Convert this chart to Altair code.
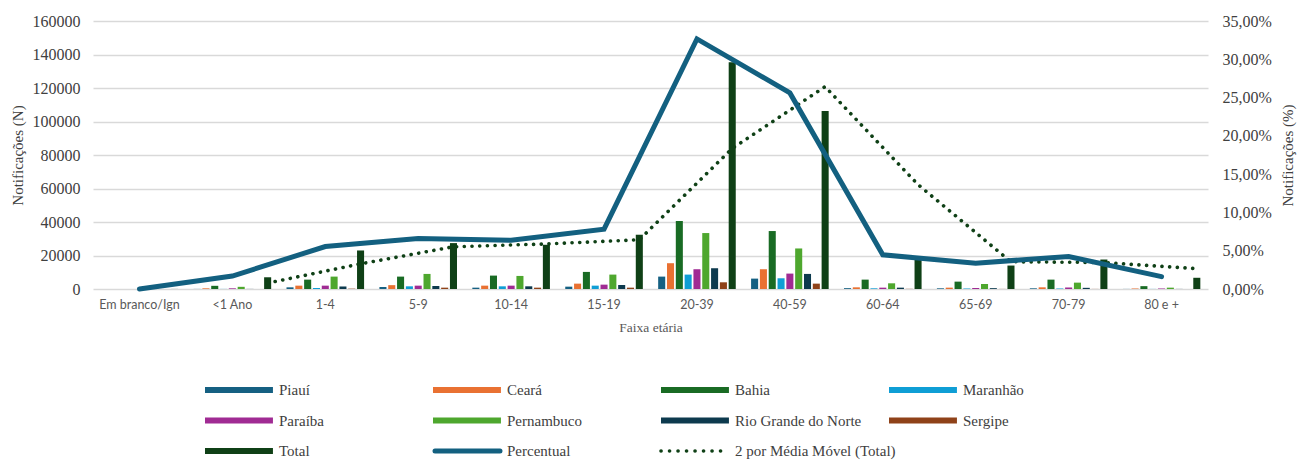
import altair as alt
import pandas as pd

# Age groups (x axis)
categories = ["Em branco/Ign", "<1 Ano", "1-4", "5-9", "10-14", "15-19",
              "20-39", "40-59", "60-64", "65-69", "70-79", "80 e +"]

# Notifications per state and age group
piaui      = [0, 50, 1000, 1200, 800, 1400, 7400, 6200, 500, 400, 400, 50]
ceara      = [0, 400, 2000, 2300, 2000, 3200, 15400, 11800, 1000, 800, 1000, 300]
bahia      = [0, 1900, 5600, 7400, 8000, 10200, 40600, 34600, 5600, 4400, 5600, 1700]
maranhao   = [0, 50, 600, 1600, 1600, 2000, 8600, 6400, 400, 300, 300, 50]
paraiba    = [0, 400, 2000, 2000, 2000, 2600, 11800, 9200, 800, 600, 900, 300]
pernambuco = [0, 1300, 7400, 9000, 7800, 8600, 33400, 24200, 3400, 3000, 3800, 800]
rio_grande_do_norte = [0, 50, 1500, 1800, 1600, 2400, 12400, 9000, 800, 500, 700, 50]
sergipe    = [0, 0, 200, 800, 800, 800, 4000, 3200, 100, 50, 50, 0]
total      = [40, 7000, 23000, 27400, 26400, 32400, 135400, 106200, 18500, 14000, 17600, 6700]

series_names = ["Piauí", "Ceará", "Bahia", "Maranhão", "Paraíba", "Pernambuco",
                "Rio Grande do Norte", "Sergipe", "Total"]
series_values = [piaui, ceara, bahia, maranhao, paraiba, pernambuco,
                 rio_grande_do_norte, sergipe, total]

legend_names = series_names + ["Percentual", "2 por Média Móvel (Total)"]
palette = ["#156082", "#E97132", "#196B24", "#0F9ED5", "#A02B93", "#4EA72E",
           "#0D3A4E", "#8F4219", "#0F4016", "#136080", "#0F4016"]

SERIF = "Liberation Serif"
SANS = "Lato"
TEXT = "#404040"
GREY = "#595959"

# Long table for the clustered columns
rows = []
for name, vals in zip(series_names, series_values):
    for cat, v in zip(categories, vals):
        rows.append({"faixa": cat, "serie": name, "n": v})
bar_df = pd.DataFrame(rows)

# Share of each age group in the total, and 2-period moving average of the total
tot = pd.Series(total, dtype=float)
pct_df = pd.DataFrame({"faixa": categories, "pct": tot / tot.sum() * 100})
ma = tot.rolling(2).mean()
ma_df = pd.DataFrame({"idx": range(len(categories)), "ma": ma}).dropna()

color_scale = alt.Scale(domain=legend_names, range=palette)
band_scale = dict(type="band", paddingInner=0.146, paddingOuter=0.073)

x_band = alt.X("faixa:N", sort=categories, scale=alt.Scale(**band_scale),
               axis=alt.Axis(title="Faixa etária", labelAngle=0, labelFont=SANS,
                             labelFontSize=12.5, labelColor=GREY, labelPadding=9,
                             ticks=False, domain=False, grid=False,
                             titleFont=SERIF, titleFontSize=13.5, titleColor=GREY,
                             titleFontWeight="normal", titlePadding=10))
x_point = alt.X("faixa:N", sort=categories,
                scale=alt.Scale(type="point", padding=0.5), axis=None)

# The moving average is placed on the Total column, the last of the nine
# columns of each group: group step 1, column step 0.0948, Total 0.379 right of centre.
x_total = alt.X("pos:Q", scale=alt.Scale(domain=[-0.5, 11.5], nice=False, zero=False),
                axis=None)

bars = alt.Chart(bar_df).mark_bar().encode(
    x=x_band,
    xOffset=alt.XOffset("serie:N", sort=series_names,
                        scale=alt.Scale(paddingInner=0.2, paddingOuter=0.1)),
    y=alt.Y("n:Q", scale=alt.Scale(domain=[0, 160000], nice=False),
            axis=alt.Axis(title="Notificações (N)", values=list(range(0, 160001, 20000)),
                          format="d", labelFont=SERIF, labelFontSize=16,
                          labelColor=TEXT, labelPadding=13, ticks=False,
                          domain=False, grid=True, gridColor="#d9d9d9",
                          gridWidth=1.3, titleFont=SERIF, titleFontSize=15,
                          titleColor=TEXT, titleFontWeight="normal",
                          titlePadding=7)),
    color=alt.Color("serie:N", scale=color_scale, legend=None),
)

pct_line = alt.Chart(pct_df).mark_line(
    color=palette[9], strokeWidth=5, strokeCap="round", strokeJoin="miter"
).encode(
    x=x_point,
    y=alt.Y("pct:Q", scale=alt.Scale(domain=[0, 35], nice=False),
            axis=alt.Axis(orient="right", title="Notificações (%)",
                          values=list(range(0, 36, 5)),
                          labelExpr="replace(format(datum.value, '.2f'), '.', ',') + '%'",
                          labelFont=SERIF, labelFontSize=16, labelColor=TEXT,
                          labelPadding=14, ticks=False, domain=False, grid=False,
                          titleFont=SERIF, titleFontSize=15, titleColor=TEXT,
                          titleFontWeight="normal", titleAngle=270,
                          titlePadding=24)),
)

ma_line = alt.Chart(ma_df).transform_calculate(
    pos="datum.idx + 0.379"
).mark_line(
    color=palette[10], strokeWidth=3.6, strokeCap="round", strokeDash=[0.1, 7.6]
).encode(
    x=x_total,
    y=alt.Y("ma:Q", scale=alt.Scale(domain=[0, 160000], nice=False), axis=None),
)

# Legend: four columns, three rows below the plot
leg_df = pd.DataFrame({
    "name": legend_names,
    "col": [i % 4 for i in range(len(legend_names))],
    "row": [i // 4 for i in range(len(legend_names))],
    "kind": ["bar"] * 9 + ["pct", "ma"],
})
leg_x = alt.X("col:Q", scale=alt.Scale(domain=[0, 4], range=[112, 1024]), axis=None)
leg_x2 = alt.X2("col_end:Q")
leg_y = alt.Y("row:Q", scale=alt.Scale(domain=[0, 2], range=[369, 430]), axis=None)

leg_base = alt.Chart(leg_df).transform_calculate(col_end="datum.col + 0.298")

leg_bars = leg_base.transform_filter("datum.kind == 'bar'").mark_rule(
    strokeWidth=6, strokeCap="butt"
).encode(x=leg_x, x2=leg_x2, y=leg_y,
         color=alt.Color("name:N", scale=color_scale, legend=None))

leg_pct = leg_base.transform_filter("datum.kind == 'pct'").transform_calculate(
    col_end="datum.col + 0.285"
).mark_rule(strokeWidth=5, strokeCap="round").encode(
    x=alt.X("col:Q", scale=alt.Scale(domain=[0, 4], range=[114, 1026]), axis=None),
    x2=leg_x2, y=leg_y,
    color=alt.Color("name:N", scale=color_scale, legend=None))

leg_ma = leg_base.transform_filter("datum.kind == 'ma'").mark_rule(
    strokeWidth=3.6, strokeCap="round", strokeDash=[0.1, 8.4]
).encode(x=leg_x, x2=leg_x2, y=leg_y,
         color=alt.Color("name:N", scale=color_scale, legend=None))

leg_text = leg_base.mark_text(
    align="left", baseline="middle", dx=74, font=SERIF, fontSize=15, color=TEXT
).encode(x=leg_x, y=leg_y, text="name:N")

chart = alt.layer(
    bars, ma_line, pct_line, leg_bars, leg_pct, leg_ma, leg_text
).resolve_scale(
    x="independent", y="independent"
).properties(
    width=1115, height=268,
    autosize=alt.AutoSizeParams(type="none"),
    padding={"left": 93, "top": 21, "right": 94, "bottom": 171},
).configure(background="white").configure_view(stroke=None)

chart.save("out.html", embed_options={"renderer": "svg", "actions": False})
